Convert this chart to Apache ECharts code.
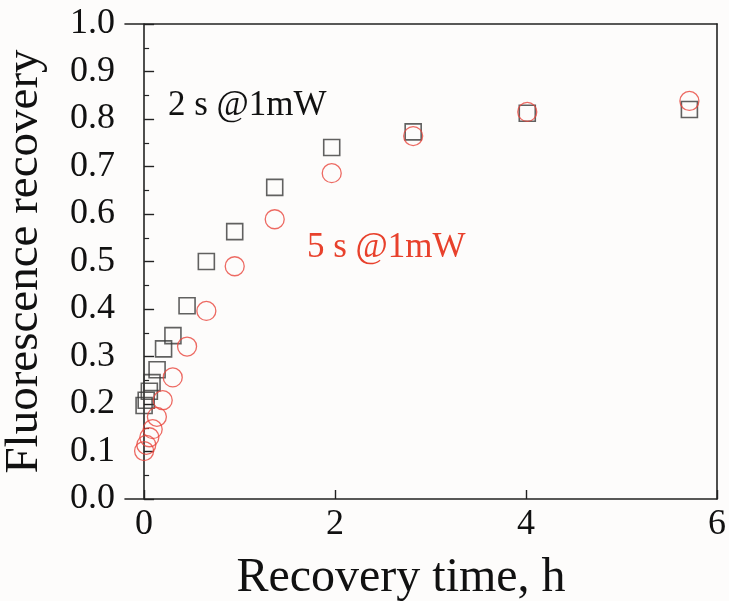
<!DOCTYPE html>
<html>
<head>
<meta charset="utf-8">
<script src="https://cdn.jsdelivr.net/npm/echarts@6/dist/echarts.min.js"></script>
<style>
html,body{margin:0;padding:0;background:#fdfcfb;}
#chart{width:729px;height:601px;}
</style>
</head>
<body>
<div id="chart"></div>
<script>
// Data
const squaresX = [0.0, 0.022, 0.055, 0.083, 0.136, 0.204, 0.302, 0.45, 0.652, 0.949, 1.368, 1.965, 2.818, 4.013, 5.711];
const squaresY = [0.197, 0.208, 0.227, 0.245, 0.272, 0.316, 0.344, 0.407, 0.500, 0.563, 0.656, 0.740, 0.773, 0.812, 0.820];
const circlesX = [0.0, 0.023, 0.055, 0.09, 0.134, 0.195, 0.30, 0.45, 0.652, 0.949, 1.368, 1.965, 2.818, 4.013, 5.711];
const circlesY = [0.101, 0.114, 0.13, 0.147, 0.173, 0.208, 0.256, 0.321, 0.396, 0.49, 0.589, 0.686, 0.764, 0.815, 0.838];
const xTicks = [0, 2, 4, 6];
const seriesNames = ['2 s @1mW', '5 s @1mW'];
const xTitle = 'Recovery time, h';
const yTitle = 'Fluorescence recovery';

const font = 'Liberation Serif';
const axisColor = '#222';
const chart = echarts.init(document.getElementById('chart'));
const zip = (xs, ys) => xs.map((x, i) => [x, ys[i]]);

chart.setOption({
  backgroundColor: '#fdfcfb',
  animation: false,
  grid: {left: 125, right: 12, top: 24, bottom: 102, containLabel: false, outerBoundsMode: 'none'},
  xAxis: [{
    type: 'value', min: -0.2, max: 6,
    name: xTitle, nameLocation: 'middle', nameGap: 55,
    nameTextStyle: {fontFamily: font, fontSize: 48, color: '#111', padding: [0, 40, 0, 0]},
    axisLine: {show: true, lineStyle: {color: axisColor, width: 1.6}},
    axisTick: {show: true, inside: true, length: 9, customValues: xTicks, lineStyle: {color: axisColor, width: 1.4}},
    axisLabel: {customValues: xTicks, fontFamily: font, fontSize: 36, color: '#111', margin: 8},
    splitLine: {show: false}
  }, {
    type: 'value', min: -0.2, max: 6, position: 'top',
    axisLine: {show: true, onZero: false, lineStyle: {color: axisColor, width: 1.6}},
    axisTick: {show: false}, axisLabel: {show: false}, splitLine: {show: false}
  }],
  yAxis: [{
    type: 'value', min: 0, max: 1, interval: 0.1,
    name: yTitle, nameLocation: 'middle', nameGap: 77,
    nameTextStyle: {fontFamily: font, fontSize: 47, color: '#111'},
    axisLine: {show: true, lineStyle: {color: axisColor, width: 1.6}},
    axisTick: {show: true, inside: true, length: 10, lineStyle: {color: axisColor, width: 1.4}},
    minorTick: {show: true, splitNumber: 2, length: 5, lineStyle: {color: axisColor, width: 1.2}},
    axisLabel: {fontFamily: font, fontSize: 36, color: '#111', margin: 10, formatter: v => v.toFixed(1)},
    splitLine: {show: false}
  }, {
    type: 'value', min: 0, max: 1, position: 'right',
    axisLine: {show: true, onZero: false, lineStyle: {color: axisColor, width: 1.6}},
    axisTick: {show: false}, axisLabel: {show: false}, splitLine: {show: false}
  }],
  series: [{
    name: seriesNames[0], type: 'scatter', xAxisIndex: 0, yAxisIndex: 0,
    data: zip(squaresX, squaresY),
    symbol: 'rect', symbolSize: 16,
    itemStyle: {color: 'rgba(0,0,0,0)', borderColor: '#3a3a3a', borderWidth: 1.6}
  }, {
    name: seriesNames[1], type: 'scatter', xAxisIndex: 0, yAxisIndex: 0,
    data: zip(circlesX, circlesY),
    symbol: 'circle', symbolSize: 19,
    itemStyle: {color: 'rgba(0,0,0,0)', borderColor: '#e8453c', borderWidth: 1.3}
  }],
  graphic: [{
    type: 'text', left: 168, top: 88,
    style: {text: seriesNames[0], fontFamily: font, fontSize: 35, fill: '#111'}
  }, {
    type: 'text', left: 307, top: 230,
    style: {text: seriesNames[1], fontFamily: font, fontSize: 35, fill: '#e8412c'}
  }]
});
</script>
</body>
</html>
